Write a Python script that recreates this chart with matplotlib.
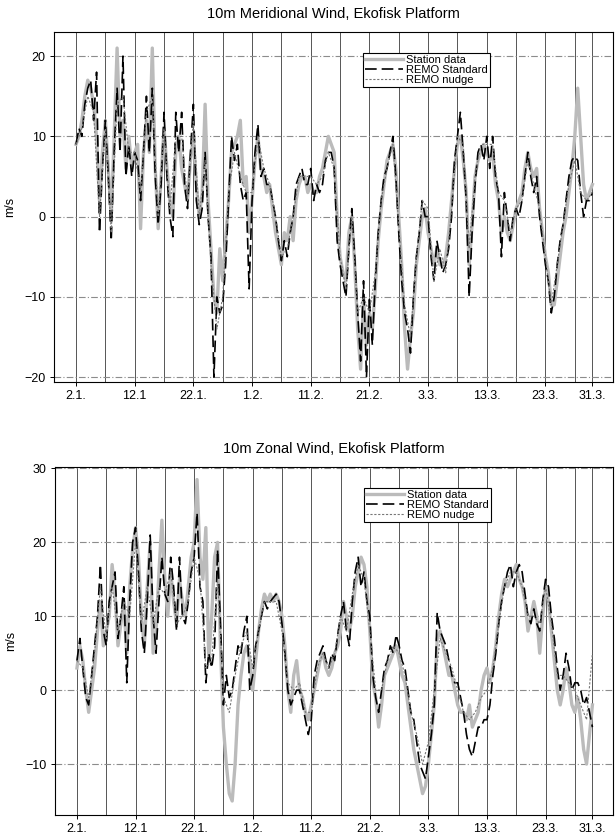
import numpy as np
import matplotlib
matplotlib.use("Agg")
import matplotlib.pyplot as plt

plt.rcParams["font.family"] = ["Liberation Sans", "DejaVu Sans"]

# time axis: days after 2 Jan, sampled twice a day (nudge run daily)
days = np.arange(0, 88.5, 0.5)
days_daily = np.arange(0, 89, 1)

tick_days = [0, 10, 20, 30, 40, 50, 60, 70, 80, 88]
tick_labels = ["2.1.", "12.1", "22.1.", "1.2.", "11.2.", "21.2.", "3.3.", "13.3.", "23.3.", "31.3."]

# meridional wind (m/s)
v_station = [
    9, 10, 12, 15, 17, 16, 14, 10, 2, 8, 12, 6, 0, 10, 21, 10, 12, 6, 10, 6,
    8, 9, -1.5, 8, 12, 8, 21, 6, -1.5, 5, 11, 6, 2, 0, 8, 10, 6, 4, 2, 7,
    10, 4, 0, 3, 14, 2, -4, -10, -12, -4, -8, -3, 2, 8, 9, 10, 12, 4, 5, -2,
    2, 7, 10, 6, 5, 3, 4, 1, -2, -4, -6, -2, -3, 0, -3, 2, 4, 5, 5, 3,
    4, 3, 3, 5, 6, 8, 10, 9, 8, 0, -5, -7, -8, -2, 0, -6, -14, -19, -10, -16,
    -12, -14, -9, -3, 1, 4, 7, 8, 9, 6, 0, -6, -14, -19, -15, -12, -6, -3, 0, 1,
    -2, -4, -6, -4, -6, -6, -5, -2, 2, 6, 9, 10, 7, 3, -6, -1, 5, 7, 8, 9,
    8, 7, 8, 4, 2, -2, 0, -2, -3, -1, 1, 2, 3, 6, 8, 6, 5, 6, 1, -2,
    -5, -7, -11, -11, -8, -5, -2, 0, 3, 6, 10, 16, 10, 4, 2, 3, 4,
]
v_standard = [
    9, 11, 10, 14, 16, 17, 12, 18, -2, 6, 12, 5, -3, 8, 16, 8, 20, 5, 9, 5,
    8, 7, 2, 8, 15, 8, 16, 5, -1, 4, 13, 5, 0, -2.5, 13, 8, 13, 4, 1, 8,
    14, 2, -1, 1, 8, 0, -5, -20, -10, -12, -11, -6, 2, 10, 7, 9, 4, 2, 3, -9,
    2, 8, 11.5, 5, 6, 4, 4, 2, 0, -3, -5.5, -3, -5, -2, 0, 4, 5, 6, 4, 4,
    6, 2, 4, 3, 4, 7, 8, 8, 6, -3, -6, -8, -10, -4, 1, -5, -12, -18, -8, -20,
    -10, -16, -8, -2, 2, 5, 6, 8, 10, 5, -2, -8, -12, -14, -17, -10, -5, -2, 2, 0,
    0, -5, -8, -3, -5, -7, -6, -4, 0, 7, 10, 13, 8, 2, -10, -2, 4, 8, 9, 7,
    10, 6, 10, 5, 3, -5, 3, 0, -3, 0, 1, 0, 2, 5, 8, 5, 3, 5, 0, -3,
    -6, -8, -12, -10, -6, -3, -1, 2, 5, 7, 7.5, 7, 3, 0, 2, 2, 3,
]
v_nudge = [
    9, 11, 15, 13, 0, 11, -2, 14, 15, 8, 8, 3, 13, 15, 0, 11, 1, 10, 10, 2,
    12, 0, 7, -6, -14, -10, 3, 8, 5, 3, 3, 10, 6, 4, 0, -5, -4, 0, 5, 5,
    5, 4, 5, 8, 6, -5, -9, 0, -12, -10, -12, -7, 2, 6, 9, -1, -11, -15, -5, 2,
    1, -8, -4, -7, 1, 10, 9, -4, 5, 9, 9, 9, 3, 2, -2, 1, 2, 7, 4, 1,
    -5, -11, -6, -1, 4, 7, 3, 2, 3,
]

# zonal wind (m/s)
u_station = [
    3, 6, 4, 0, -3, 0, 3, 8, 12, 6, 8, 10, 17, 13, 6, 9, 12, 5, 14, 19,
    22, 18, 10, 6, 14, 20, 5, 8, 16, 23, 15, 10, 16, 12, 9, 15, 12, 10, 14, 18,
    20, 28.5, 18, 15, 22, 4, 10, 18, 20, 6, -5, -10, -14, -15, -10, -2, 2, 5, 6, 4,
    0, 4, 8, 11, 13, 12, 13, 12, 13, 12, 10, 6, 0, -3, 2, 4, 0, -1, -3, -4,
    -2, 0, 2, 4, 5, 3, 2, 3, 5, 6, 8, 12, 10, 8, 10, 14, 16, 18, 17, 14,
    8, 1, -1, -5, -2, 2, 3, 4, 5, 6, 4, 2, 1, -2, -5, -8, -10, -12, -14, -13,
    -10, -6, -2, 7, 8, 6, 4, 2, 2, 0, -2, -3, -3, -4, -2, -5, -4, -3, 0, 2,
    3, 1, 3, 6, 10, 13, 15, 14, 15, 16, 17, 15, 14, 12, 8, 10, 12, 10, 5, 10,
    14, 12, 8, 4, 0, -2, 0, 3, 1, -2, -3, -1, -4, -8, -10, -6, -2,
]
u_standard = [
    4, 7, 3, -1, -2, 2, 6, 10, 17, 8, 6, 12, 14, 16, 7, 10, 14, 1, 12, 20,
    22, 16, 8, 5, 12, 21, 10, 5, 12, 18, 13, 12, 18, 14, 8, 18, 10, 9, 12, 16,
    18, 24, 14, 12, 1, 5, 3, 6, 19, 9, -2, 2, -1, 0, 3, 6, 5, 8, 10, 0,
    2, 6, 8, 10, 12, 11, 12, 12.5, 13, 12, 9, 5, 0, -2, -1, 0, 0, -2, -4, -6,
    -4, 2, 4, 5, 6, 4, 3, 5, 4, 7.5, 10, 12, 8, 6, 12, 16, 18, 14, 16, 12,
    10, 2, -1, -3, 0, 3, 4, 6, 5, 7.5, 6, 4, 3, 0, -3, -4, -7, -10, -11, -12,
    -9, -6, -2, 10.5, 8, 7, 6, 4, 2, 1, 1, -1, -3, -6, -8, -9, -7, -5, -5, -4,
    -4, -2, 2, 5, 9, 12, 14, 16, 17, 14, 16, 17, 16, 13, 10, 9, 11, 9, 8, 12,
    15, 14, 10, 7, 3, 0, 2, 5, 3, 0, 1, 1, 0, -2, -1, -3, -5,
]
u_nudge = [
    4, 3, -1, 5, 14, 7, 14, 8, 12, 10, 20, 9, 14, 9, 14, 13, 16, 9, 10, 12,
    18, 15, 3, 4, 15, -1, -3, 2, 6, 8, 3, 8, 12, 12, 12, 8, 1, 0, 1, -3,
    -3, 3, 5, 3, 5, 10, 8, 13, 17, 15, 8, 0, 0, 4, 6, 5, 2, -3, -6, -10,
    -7, 0, 7, 5, 3, 0, -3, -4, -3, -1, 0, 3, 9, 14, 16, 16, 14, 10, 10, 9,
    14, 9, 2, 2, 1, 0, -2, -4, 5,
]

GRID_COLOR = "#8c8c8c"


def draw_panel(ax, station, standard, nudge, title, yticks, ylim):
    ax.plot(days, station, color="#bbbbbb", lw=2.4, label="Station data", zorder=3)
    ax.plot(days, standard, color="black", lw=1.2, dashes=(7, 3), label="REMO Standard", zorder=4)
    ax.plot(days_daily, nudge, color="#777777", lw=0.8, dashes=(2, 1.5), label="REMO nudge", zorder=4)

    for d in range(0, 89, 5):
        ax.axvline(d, color="#555555", lw=0.7, zorder=1)
    ax.axvline(88, color="#555555", lw=0.7, zorder=1)
    for y in yticks:
        ax.axhline(y, color=GRID_COLOR, lw=0.8, ls=(0, (6, 2, 1, 2)), zorder=1)

    ax.set_xlim(-3.75, 91.5)
    ax.set_ylim(*ylim)
    ax.set_xticks(tick_days)
    ax.set_xticklabels(tick_labels)
    ax.set_yticks(yticks)
    ax.tick_params(labelsize=9, length=3, width=0.7, direction="out", pad=3)
    ax.set_title(title, fontsize=10.5, pad=10)
    ax.set_ylabel("m/s", fontsize=9, labelpad=6)
    for s in ax.spines.values():
        s.set_linewidth(0.8)
    leg = ax.legend(loc="upper left", bbox_to_anchor=(0.553, 0.94), fontsize=8,
                    fancybox=False, framealpha=1, edgecolor="black",
                    borderpad=0.2, labelspacing=0.0, handlelength=3.4,
                    handletextpad=0.3, borderaxespad=0)
    leg.get_frame().set_linewidth(0.8)


fig = plt.figure(figsize=(6.16, 8.38), dpi=100)
ax1 = fig.add_axes([0.0877, 0.5442, 0.9073, 0.4176])
ax2 = fig.add_axes([0.0893, 0.0274, 0.9057, 0.4153])

draw_panel(ax1, v_station, v_standard, v_nudge, "10m Meridional Wind, Ekofisk Platform",
           [-20, -10, 0, 10, 20], (-20.6, 23.0))
draw_panel(ax2, u_station, u_standard, u_nudge, "10m Zonal Wind, Ekofisk Platform",
           [-10, 0, 10, 20, 30], (-16.9, 30.2))

fig.savefig("out.png", dpi=100)
